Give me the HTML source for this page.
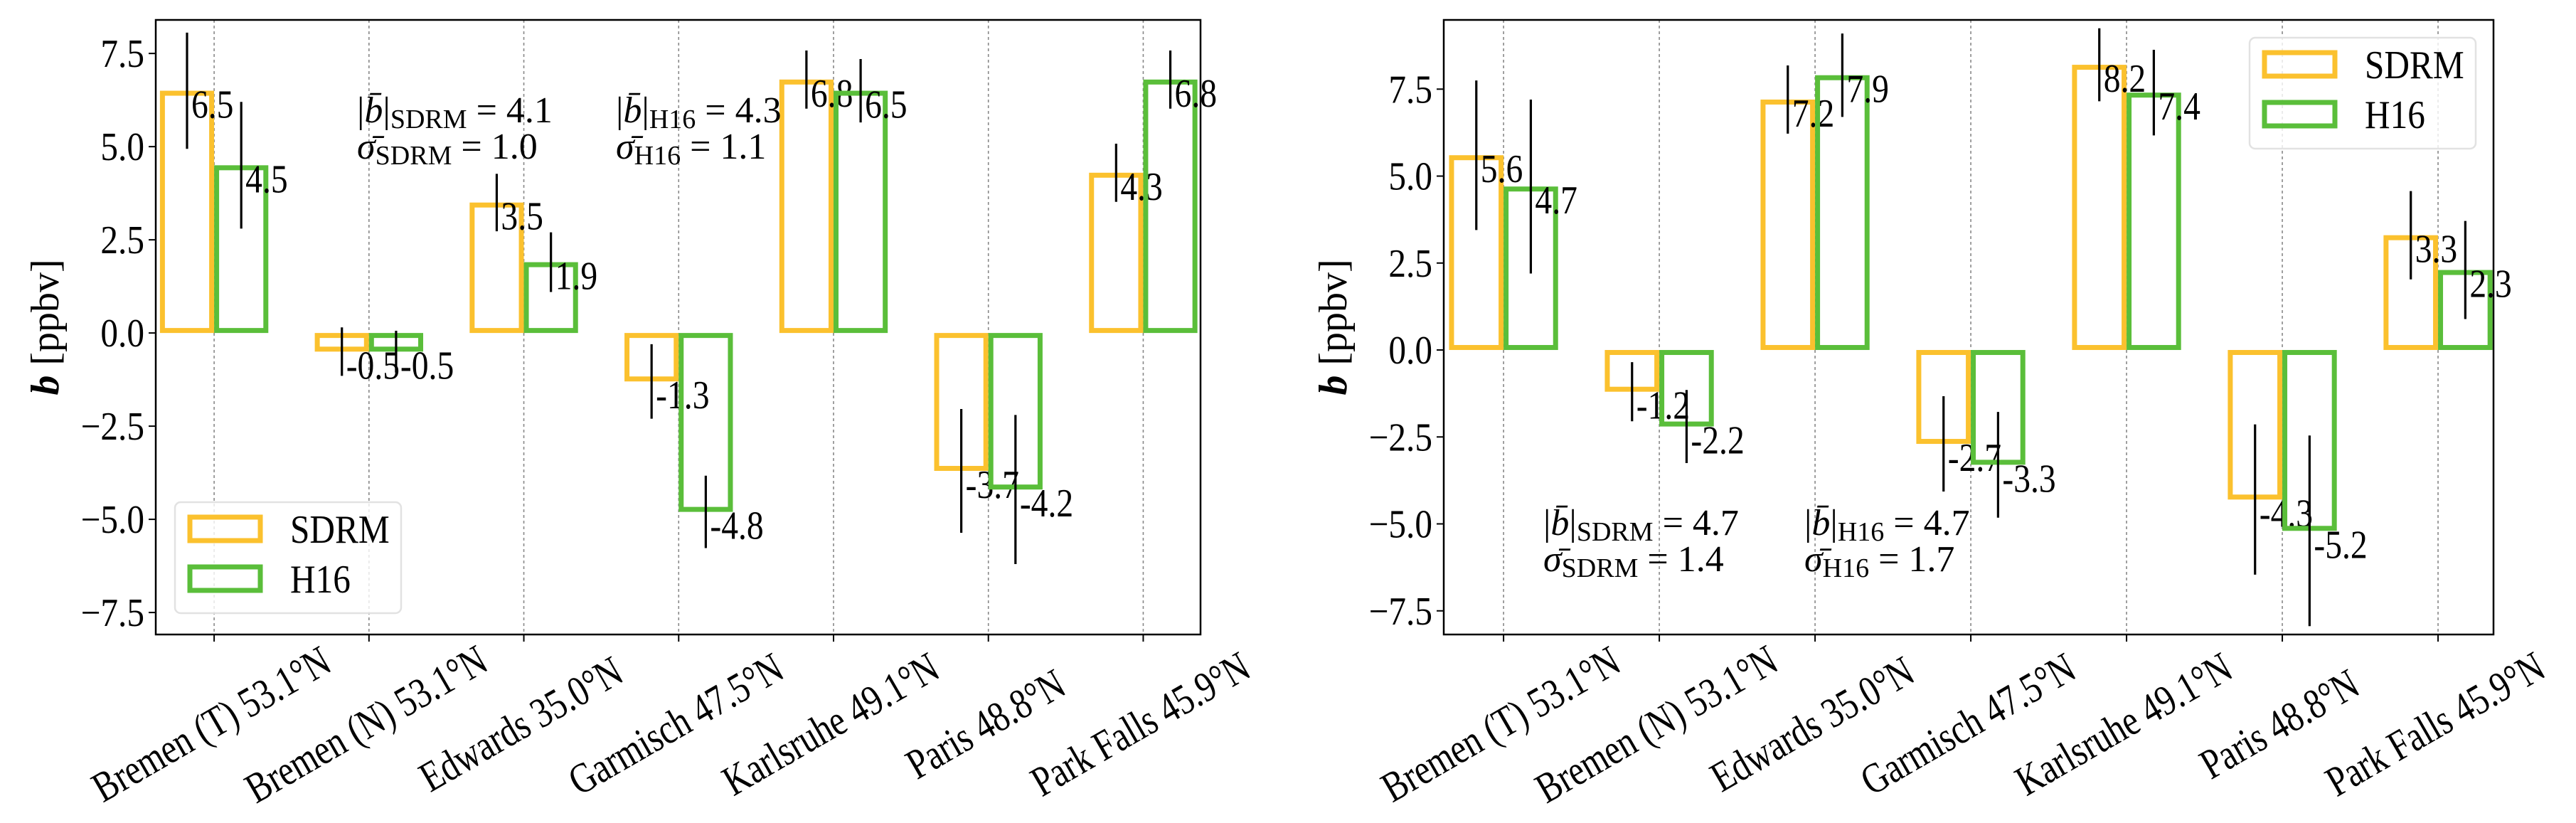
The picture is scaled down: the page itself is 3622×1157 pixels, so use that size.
<!DOCTYPE html>
<html><head><meta charset="utf-8"><style>
html,body{margin:0;padding:0;background:#fff}
svg{display:block}
text{font-family:"Liberation Serif","DejaVu Serif",serif;fill:#000}
</style></head>
<body>
<svg id="fig" width="3622" height="1157" viewBox="0 0 3622 1157" xmlns="http://www.w3.org/2000/svg"></svg>
<script>
const categories = ["Bremen (T) 53.1°N","Bremen (N) 53.1°N","Edwards 35.0°N","Garmisch 47.5°N","Karlsruhe 49.1°N","Paris 48.8°N","Park Falls 45.9°N"];
const leftSdrm = [6.5,-0.5,3.5,-1.3,6.8,-3.7,4.3];
const leftH16 = [4.5,-0.5,1.9,-4.8,6.5,-4.2,6.8];
const leftSdrmErr = [1.56,0.65,0.77,1.0,0.78,1.66,0.78];
const leftH16Err = [1.7,0.56,0.8,0.97,0.85,2.0,0.78];
const rightSdrm = [5.6,-1.2,7.2,-2.7,8.2,-4.3,3.3];
const rightH16 = [4.7,-2.2,7.9,-3.3,7.4,-5.2,2.3];
const rightSdrmErr = [2.15,0.85,0.98,1.37,1.05,2.16,1.27];
const rightH16Err = [2.5,1.05,1.2,1.52,1.23,2.74,1.41];
const yTicks = [-7.5,-5.0,-2.5,0.0,2.5,5.0,7.5];
const yTickLabels = ["\u22127.5","\u22125.0","\u22122.5","0.0","2.5","5.0","7.5"];

const NS="http://www.w3.org/2000/svg";
const svg=document.getElementById('fig');
function mk(tag,attrs,parent){const e=document.createElementNS(NS,tag);for(const k in attrs)e.setAttribute(k,attrs[k]);(parent||svg).appendChild(e);return e;}
const ORANGE="#fbc12e", GREEN="#5abe3a";

function panel(p){
  const g=mk('g',{});
  
  
  const xS=v=>p.L+(v-p.xmin)/(p.xmax-p.xmin)*(p.R-p.L);
  const yS=v=>p.B-(v-p.ymin)/(p.ymax-p.ymin)*(p.B-p.T);
  categories.forEach((c,i)=>{
    const l=mk('line',{x1:xS(i),x2:xS(i),y1:p.T,y2:p.B,stroke:'#888','stroke-width':1.6,'stroke-dasharray':'4,4'},g);
    
    
  });
  const w=0.35;
  function series(vals,errs,off,color,nm){
    vals.forEach((v,i)=>{
      const x0=xS(i+off), x1=xS(i+off+w);
      const y0=yS(Math.max(v,0)), y1=yS(Math.min(v,0));
      const r=mk('rect',{x:x0+3.5,y:y0+3.5,width:x1-x0-7,height:Math.max(y1-y0-7,0),fill:'none',stroke:color,'stroke-width':7},g);
      
      
      const cx=xS(i+off+w/2);
      const e=mk('line',{x1:cx,x2:cx,y1:yS(v+errs[i]),y2:yS(v-errs[i]),stroke:'#000','stroke-width':3.2},g);
      
      
      const t=mk('text',{x:0,y:0,'font-size':56,transform:`translate(${cx+6} ${yS(v)+38}) scale(0.85 1)`},g);
      t.textContent=v.toFixed(1);
      
      
    });
  }
  series(p.sdrm,p.sdrmErr,-w,ORANGE,'sdrm');
  series(p.h16,p.h16Err,0,GREEN,'h16');
  const fr=mk('rect',{x:p.L,y:p.T,width:p.R-p.L,height:p.B-p.T,fill:'none',stroke:'#000','stroke-width':2.5},g);
  
  
  yTicks.forEach((v,i)=>{
    const y=yS(v);
    mk('line',{x1:p.L-10,x2:p.L,y1:y,y2:y,stroke:'#000','stroke-width':2},g);
    const t=mk('text',{x:0,y:0,'font-size':56,'text-anchor':'end',transform:`translate(${p.L-16} ${y+19}) scale(0.88 1)`},g);
    t.textContent=yTickLabels[i];
    
    
  });
  categories.forEach((c,i)=>{
    const x=xS(i);
    mk('line',{x1:x,x2:x,y1:p.B,y2:p.B+10,stroke:'#000','stroke-width':2},g);
    const t=mk('text',{x:0,y:0,'font-size':60,'text-anchor':'middle','dominant-baseline':'central',transform:`translate(${x-4} 1018) rotate(-30) scale(0.8 1)`},g);
    t.textContent=c;
    
    
  });
  const yl=mk('text',{x:0,y:0,'font-size':56,'text-anchor':'middle','dominant-baseline':'central',transform:`translate(${p.L-155} ${(p.T+p.B)/2}) rotate(-90)`},g);
  yl.innerHTML='<tspan font-style="italic" font-weight="bold">b</tspan> [ppbv]';
  
  
  p.stats.forEach(s=>{
    const a=mk('text',{x:s.x,y:s.y,'font-size':52},g);
    a.innerHTML=`|<tspan font-style="italic">b\u0304</tspan>|<tspan font-size="38" dy="8">${s.m}</tspan><tspan dy="-8"> = ${s.b}</tspan>`;
    
    
    const b=mk('text',{x:s.x,y:s.y+51,'font-size':52},g);
    b.innerHTML=`<tspan font-style="italic">\u03c3\u0304</tspan><tspan font-size="38" dy="8">${s.m}</tspan><tspan dy="-8"> = ${s.s}</tspan>`;
    
    
  });
  const lg=mk('g',{},g);
  
  
  const Lx=p.leg[0], Ly=p.leg[1];
  mk('rect',{x:Lx,y:Ly,width:318,height:156,rx:8,fill:'rgba(255,255,255,0.8)',stroke:'#e2e2e2','stroke-width':2.5},lg);
  [[ORANGE,'SDRM'],[GREEN,'H16']].forEach((e,k)=>{
    const ent=mk('g',{},lg);
    
    
    mk('rect',{x:Lx+21,y:Ly+21+k*70,width:99,height:33,fill:'none',stroke:e[0],'stroke-width':7},ent);
    const t=mk('text',{x:0,y:0,'font-size':56,transform:`translate(${Lx+162} ${Ly+57+k*70}) scale(0.88 1)`},ent);
    t.textContent=e[1];
  });
}

panel({name:'left-panel',L:219,R:1688,T:28,B:892,xmin:-0.377,xmax:6.37,ymin:-8.09,ymax:8.40,
  sdrm:leftSdrm,h16:leftH16,sdrmErr:leftSdrmErr,h16Err:leftH16Err,
  stats:[{x:502,y:172,m:'SDRM',b:'4.1',s:'1.0'},{x:866,y:172,m:'H16',b:'4.3',s:'1.1'}],
  leg:[246,706]});
panel({name:'right-panel',L:2030,R:3506,T:28,B:892,xmin:-0.384,xmax:6.356,ymin:-8.18,ymax:9.49,
  sdrm:rightSdrm,h16:rightH16,sdrmErr:rightSdrmErr,h16Err:rightH16Err,
  stats:[{x:2170,y:752,m:'SDRM',b:'4.7',s:'1.4'},{x:2537,y:752,m:'H16',b:'4.7',s:'1.7'}],
  leg:[3163,53]});
</script>
</body></html>
